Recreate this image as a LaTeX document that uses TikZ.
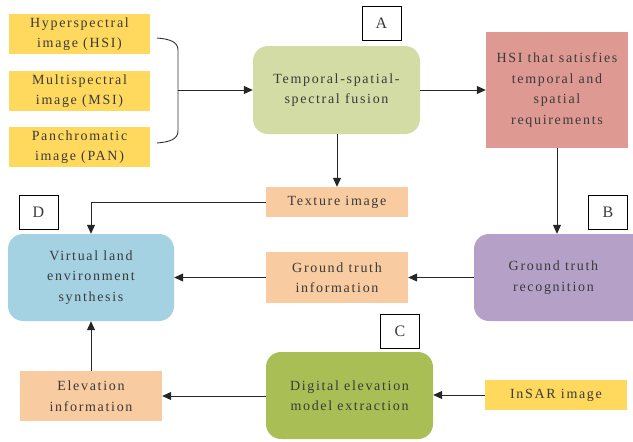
\documentclass[tikz,border=0pt]{standalone}
\usepackage{fontspec}
\setmainfont{Liberation Serif}[LetterSpace=12]
\usetikzlibrary{arrows.meta}
\definecolor{yel}{HTML}{FFD95E}
\definecolor{peach}{HTML}{F8CBA0}
\definecolor{fusg}{HTML}{D2DCA4}
\definecolor{redb}{HTML}{DE9A92}
\definecolor{blu}{HTML}{A5D2E2}
\definecolor{purp}{HTML}{B5A1C8}
\definecolor{demg}{HTML}{A9BE55}
\definecolor{txt}{HTML}{3A3A3A}
\tikzset{
  box/.style={rectangle, inner sep=0pt, align=center, text=txt, font=\fontsize{14}{20.5}\selectfont},
  rbox/.style={box, rounded corners=15pt},
  lab/.style={draw=black, line width=0.8pt, fill=white, inner sep=0pt, minimum width=39pt, minimum height=34pt, font=\fontsize{16}{17}\selectfont, text=txt},
  arr/.style={draw=black!85, line width=1pt, -{Triangle[length=9pt,width=8pt]}},
}
\begin{document}
\begin{tikzpicture}[x=1pt,y=-1pt]
\useasboundingbox (0,0) rectangle (633,442);
% inputs
\node[box, fill=yel, minimum width=141pt, minimum height=40pt] (hsi) at (79.5,34) {Hyperspectral\\image (HSI)};
\node[box, fill=yel, minimum width=141pt, minimum height=40pt] (msi) at (79.5,91) {Multispectral\\image (MSI)};
\node[box, fill=yel, minimum width=141pt, minimum height=40pt] (pan) at (79.5,147) {Panchromatic\\image (PAN)};
\coordinate (bt) at (157,38);
\coordinate (bb) at (157,143);
\coordinate (bm) at (178,90);
\draw[black!80, line width=0.9pt] (bt) .. controls (170,39) and (178,42) .. (178,50) -- (178,131) .. controls (178,139) and (170,142) .. (bb);
% fusion
\node[rbox, fill=fusg, minimum width=167pt, minimum height=88pt] (fus) at (336.5,90) {Temporal-spatial-\\spectral fusion};
\node[lab] (A) at (381.5,23) {A};
\node[box, fill=redb, minimum width=142pt, minimum height=116pt] (red) at (557,90) {HSI that satisfies\\temporal and\\spatial\\requirements};
\node[box, fill=peach, minimum width=142pt, minimum height=30pt] (tex) at (337,202) {Texture image};
\node[rbox, fill=blu, minimum width=166pt, minimum height=87pt] (vir) at (91,277.5) {Virtual land\\environment\\synthesis};
\node[lab] (D) at (38.5,212) {D};
\node[box, fill=peach, minimum width=142pt, minimum height=51pt] (gti) at (337,277.5) {Ground truth\\information};
\node[rbox, fill=purp, minimum width=175pt, minimum height=87pt] (rec) at (561.5,277.5) {\hspace*{-16pt}Ground truth\\\hspace*{-16pt}recognition};
\node[lab] (B) at (608,212.5) {B};
\node[lab] (C) at (400,331) {C};
\node[rbox, fill=demg, minimum width=167pt, minimum height=87pt] (dem) at (349.5,395.5) {Digital elevation\\model extraction};
\node[box, fill=yel, minimum width=142pt, minimum height=30pt] (insar) at (556,395) {InSAR image};
\node[box, fill=peach, minimum width=142pt, minimum height=50pt] (ele) at (91,396) {Elevation\\information};
% connectors
\draw[arr] (bm) -- (fus.west);
\draw[arr] (fus.east) -- (red.west);
\draw[arr] (red.south) -- (red.south |- rec.north);
\draw[arr] (fus.south -| tex.north) -- (tex.north);
\draw[arr] (tex.west) -| (vir.north);
\draw[arr] (rec.west) -- (gti.east);
\draw[arr] (gti.west) -- (vir.east);
\draw[arr] (insar.west) -- (dem.east |- insar.west);
\draw[arr] (dem.west |- ele.east) -- (ele.east);
\draw[arr] (ele.north) -- (vir.south);
\end{tikzpicture}
\end{document}
